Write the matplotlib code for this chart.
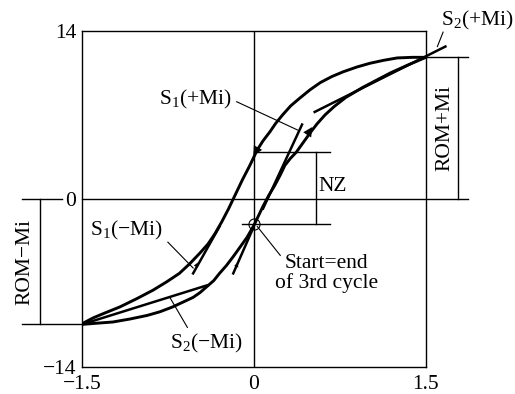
import numpy as np
import matplotlib
matplotlib.use("Agg")
import matplotlib.pyplot as plt

plt.rcParams["font.family"] = ["Liberation Serif", "DejaVu Serif"]
plt.rcParams["mathtext.fontset"] = "custom"
plt.rcParams["mathtext.rm"] = "Liberation Serif"
plt.rcParams["mathtext.it"] = "Liberation Serif"

# upper branch (unloading, +ROM -> -ROM)
unload_x = [1.5, 1.38, 1.25, 1.13, 1.01, 0.90, 0.78, 0.68, 0.58, 0.49, 0.40, 0.32,
            0.25, 0.19, 0.14, 0.08, 0.03, -0.035, -0.10, -0.16, -0.22, -0.28, -0.34,
            -0.40, -0.47, -0.56, -0.65, -0.76, -0.88, -1.02, -1.17, -1.30, -1.40, -1.5]
unload_y = [11.8, 11.8, 11.75, 11.55, 11.3, 11.0, 10.6, 10.2, 9.7, 9.1, 8.4, 7.75,
            7.0, 6.3, 5.6, 4.85, 4.1, 2.8, 1.6, 0.4, -0.8, -1.9, -2.9,
            -3.75, -4.5, -5.4, -6.2, -6.9, -7.6, -8.3, -9.0, -9.5, -9.9, -10.4]

# lower branch (loading, -ROM -> +ROM)
load_x = [-1.5, -1.37, -1.23, -1.08, -0.93, -0.82, -0.71, -0.62, -0.53, -0.47, -0.41,
          -0.35, -0.30, -0.24, -0.18, -0.12, -0.06, 0.0, 0.04, 0.08, 0.13, 0.18,
          0.23, 0.27, 0.32, 0.37, 0.43, 0.49, 0.55, 0.62, 0.70, 0.80, 0.95, 1.07,
          1.19, 1.34, 1.5]
load_y = [-10.45, -10.35, -10.25, -10.0, -9.7, -9.4, -9.0, -8.6, -8.2, -7.8, -7.3,
          -6.8, -6.2, -5.55, -4.8, -4.0, -3.2, -2.2, -1.4, -0.6, 0.3, 1.1,
          2.0, 2.8, 3.4, 3.9, 4.7, 5.5, 6.25, 7.0, 7.7, 8.45, 9.3, 9.9,
          10.5, 11.15, 11.8]

# tangent lines (stiffness)
s2p_x, s2p_y = [0.53, 1.67], [7.25, 12.7]
s2m_x, s2m_y = [-1.5, -0.41], [-10.45, -7.2]
s1p_x, s1p_y = [0.42, 0.08], [6.2, -0.8]
s1m_x, s1m_y = [-0.53, -0.30], [-6.2, -2.3]
s1m2_x, s1m2_y = [-0.18, -0.01], [-6.2, -2.5]

rom_pos = 11.8
rom_neg = -10.45
nz_top = 3.9
nz_bot = -2.1

fs = 15.5

fig = plt.figure(figsize=(5.15, 3.94), dpi=100)
ax = fig.add_axes([0.159, 0.0685, 0.668, 0.853])
ax.set_xlim(-1.5, 1.5)
ax.set_ylim(-14, 14)

lw_thick = 2.1
lw_thin = 1.0

ax.plot(unload_x, unload_y, color="k", lw=lw_thick, solid_joinstyle="round",
        solid_capstyle="round")
ax.plot(load_x, load_y, color="k", lw=lw_thick, solid_joinstyle="round",
        solid_capstyle="round")
ax.plot(s2p_x, s2p_y, color="k", lw=1.8, clip_on=False)
ax.plot(s2m_x, s2m_y, color="k", lw=1.8)
ax.plot(s1p_x, s1p_y, color="k", lw=1.8)
ax.plot(s1m_x, s1m_y, color="k", lw=1.8)
ax.plot(s1m2_x, s1m2_y, color="k", lw=1.8)

# arrowheads
arrows = [((0.09, 5.2), (-0.005, 3.6), 17),
          ((0.40, 4.4), (0.51, 6.0), 17),
          ((-0.55, -6.5), (-0.49, -5.3), 8),
          ((-0.19, -6.5), (-0.14, -5.3), 8)]
for tail, tip, ms in arrows:
    ax.annotate("", xy=tip, xytext=tail,
                arrowprops=dict(arrowstyle="-|>", color="k", lw=0,
                                mutation_scale=ms, shrinkA=0, shrinkB=0))

# axis lines
ax.axvline(0, color="k", lw=lw_thin)
ax.plot([-1.5, 1.87], [0, 0], color="k", lw=lw_thin, clip_on=False)
ax.plot([-2.02, -1.67], [0, 0], color="k", lw=lw_thin, clip_on=False)

# ROM+Mi dimension
ax.plot([1.5, 1.87], [rom_pos, rom_pos], color="k", lw=lw_thin, clip_on=False)
ax.plot([1.78, 1.78], [0, rom_pos], color="k", lw=lw_thin, clip_on=False)
ax.text(1.665, 5.9, "ROM+Mi", rotation=90, ha="center", va="center",
        fontsize=fs, clip_on=False)

# ROM-Mi dimension
ax.plot([-2.02, -1.5], [rom_neg, rom_neg], color="k", lw=lw_thin, clip_on=False)
ax.plot([-1.866, -1.866], [0, rom_neg], color="k", lw=lw_thin, clip_on=False)
ax.text(-1.995, -5.25, "ROM\u2212Mi", rotation=90, ha="center", va="center",
        fontsize=fs, clip_on=False)

# NZ dimension
ax.plot([0, 0.66], [nz_top, nz_top], color="k", lw=lw_thin)
ax.plot([-0.10, 0.66], [nz_bot, nz_bot], color="k", lw=lw_thin)
ax.plot([0.54, 0.54], [nz_bot, nz_top], color="k", lw=lw_thin)
ax.text(0.69, 1.0, "NZ", ha="center", va="center", fontsize=fs)

# start point circle
ax.plot([0.0], [nz_bot], marker="o", ms=8, mfc="none", mec="k", mew=0.8)

# labels with leaders
ax.text(1.95, 14.9, "S$_2$(+Mi)", ha="center", va="center", fontsize=fs,
        clip_on=False)
ax.plot([1.65, 1.60], [13.9, 12.7], color="k", lw=0.8, clip_on=False)

ax.text(-0.51, 8.25, "S$_1$(+Mi)", ha="center", va="center", fontsize=fs)
ax.plot([-0.15, 0.38], [8.1, 5.75], color="k", lw=0.8)

ax.text(-1.11, -2.6, "S$_1$(\u2212Mi)", ha="center", va="center", fontsize=fs)
ax.plot([-0.75, -0.53], [-3.6, -5.75], color="k", lw=0.8)

ax.text(-0.41, -12.0, "S$_2$(\u2212Mi)", ha="center", va="center", fontsize=fs)
ax.plot([-0.58, -0.73], [-10.7, -8.25], color="k", lw=0.8)

ax.text(0.63, -6.2, "Start=end\nof 3rd cycle", ha="center", va="center",
        fontsize=fs, linespacing=1.0)
ax.plot([0.03, 0.23], [-2.3, -4.7], color="k", lw=0.8)

ax.set_xticks([-1.5, 0, 1.5])
ax.set_xticklabels(["\u22121.5", "0", "1.5"])
ax.set_yticks([-14, 0, 14])
ax.set_yticklabels(["\u221214", "0", "14"])
ax.tick_params(length=0, labelsize=fs)
ax.tick_params(axis="x", pad=5.5)
ax.tick_params(axis="y", pad=4)
for s in ax.spines.values():
    s.set_linewidth(1.0)

fig.savefig("out.png", dpi=100)
